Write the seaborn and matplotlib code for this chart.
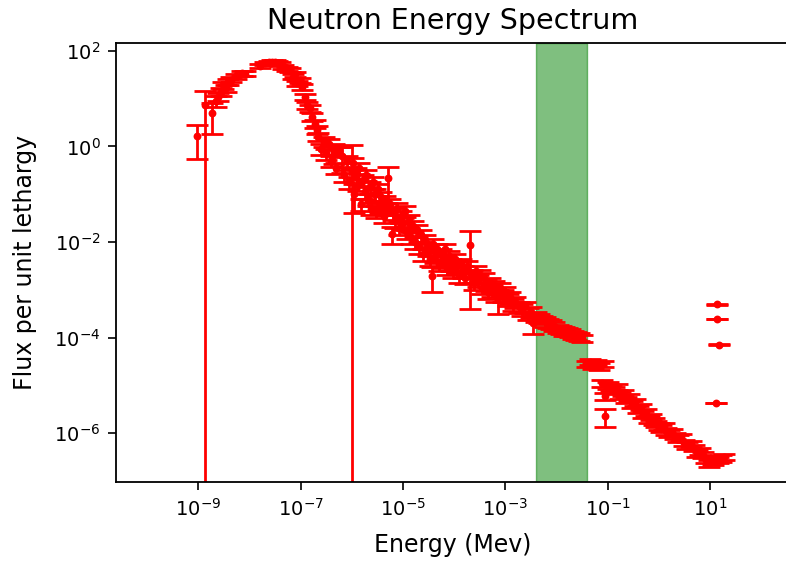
import numpy as np
import pandas as pd
import matplotlib
matplotlib.use("Agg")
import matplotlib.pyplot as plt
import seaborn as sns

# ---------------- data ----------------
# thermal peak region
peak_energy = [9.6e-10, 1.35e-9, 1.88e-9, 2.2e-9, 2.45e-9, 2.75e-9, 3.08e-9, 3.5e-9,
               3.85e-9, 4.4e-9, 5.5e-9, 7.0e-9, 8.2e-9, 1.6e-8, 2.0e-8, 2.4e-8, 2.7e-8,
               3.1e-8, 3.4e-8, 3.9e-8, 4.6e-8, 5.4e-8, 6.2e-8, 7.2e-8, 7.6e-8, 8.4e-8,
               9.5e-8, 1.05e-7, 1.22e-7, 1.32e-7, 1.52e-7, 1.64e-7, 1.9e-7, 2.06e-7, 2.21e-7]
peak_flux = [1.65, 7.3, 4.9, 9.0, 10.9, 14.0, 19.0, 16.5, 22.5, 25.0, 29.0, 33.6, 33.0,
             48.0, 54.5, 57.0, 59.0, 58.0, 55.0, 52.0, 46.6, 42.0, 39.6, 28.6, 32.0, 20.8,
             24.0, 17.7, 10.9, 7.3, 6.25, 4.2, 3.0, 2.2, 1.6]
peak_err = [1.1, 7.4, 3.1, 2.5, 2.2, 2.5, 2.8, 2.6, 3.0, 3.2, 3.5, 3.8, 3.8,
            4.8, 5.0, 5.0, 5.2, 5.0, 5.0, 4.8, 4.5, 4.2, 4.0, 3.4, 3.6, 2.8,
            3.0, 2.5, 1.7, 1.2, 1.0, 0.75, 0.55, 0.42, 0.32]

# epithermal band
band_energy = [2.51e-7, 2.82e-7, 3.16e-7, 3.55e-7, 3.98e-7, 4.47e-7, 4.5e-7, 5.01e-7, 5.62e-7,
               6.31e-7, 7.08e-7, 7.94e-7, 8.91e-7, 1.0e-6, 1.05e-6, 1.12e-6, 1.2e-6, 1.32e-6,
               1.41e-6, 1.51e-6, 1.66e-6, 1.78e-6, 1.91e-6, 2.09e-6, 2.24e-6, 2.4e-6, 2.63e-6,
               2.82e-6, 3.02e-6, 3.31e-6, 3.55e-6, 3.8e-6, 4.17e-6, 4.47e-6, 4.79e-6, 5.16e-6,
               5.5e-6, 6.0e-6, 6.31e-6, 6.9e-6, 7.6e-6, 8.3e-6, 9.1e-6, 1.0e-5, 1.1e-5,
               1.2e-5, 1.32e-5, 1.45e-5, 1.58e-5, 1.74e-5, 1.9e-5, 2.09e-5, 2.29e-5, 2.51e-5,
               2.75e-5, 3.02e-5, 3.31e-5, 3.63e-5, 3.8e-5, 4.17e-5, 4.57e-5, 5.01e-5, 5.5e-5,
               6.03e-5, 6.6e-5, 7.24e-5, 7.94e-5, 8.7e-5, 9.55e-5, 1.05e-4, 1.15e-4, 1.26e-4,
               1.38e-4, 1.51e-4, 1.66e-4, 1.82e-4, 2.04e-4, 2.19e-4, 2.4e-4, 2.63e-4, 2.88e-4,
               3.16e-4, 3.47e-4, 3.8e-4, 4.17e-4, 4.57e-4, 5.01e-4, 5.5e-4, 6.03e-4, 6.6e-4,
               7.24e-4, 7.94e-4, 8.9e-4, 1.0e-3, 1.12e-3, 1.26e-3, 1.41e-3, 1.58e-3, 1.82e-3,
               2.09e-3, 2.4e-3, 2.75e-3, 3.16e-3, 3.55e-3, 3.98e-3, 4.57e-3, 5.25e-3, 6.03e-3,
               6.9e-3, 7.94e-3, 9.1e-3, 1.05e-2, 1.2e-2, 1.38e-2, 1.58e-2, 1.82e-2, 2.09e-2,
               2.4e-2, 2.75e-2, 3.1e-2]
band_flux = [0.89, 1.26, 0.71, 1.12, 0.50, 0.89, 0.75, 0.35, 0.79,
             0.63, 0.25, 0.50, 0.18, 0.30, 0.45, 0.10, 0.28, 0.16,
             0.35, 0.063, 0.20, 0.11, 0.25, 0.079, 0.14, 0.05, 0.18,
             0.10, 0.045, 0.126, 0.056, 0.089, 0.035, 0.071, 0.05, 0.215,
             0.063, 0.015, 0.04, 0.028, 0.05, 0.02, 0.035, 0.025, 0.045,
             0.016, 0.028, 0.0126, 0.022, 0.01, 0.018, 0.0079, 0.014, 0.0056,
             0.011, 0.0071, 0.0045, 0.00195, 0.0089, 0.005, 0.0071, 0.0035, 0.0056,
             0.004, 0.0071, 0.0028, 0.005, 0.0035, 0.0025, 0.0045, 0.0032, 0.002,
             0.0035, 0.0025, 0.0018, 0.0032, 0.0087, 0.002, 0.0014, 0.0025, 0.0016,
             0.002, 0.0011, 0.0018, 0.0013, 0.00089, 0.0014, 0.001, 0.0012, 0.00079,
             0.00066, 0.0011, 0.00079, 0.00089, 0.00063, 0.00071, 0.0005, 0.00056, 0.00045,
             0.0004, 0.00045, 0.00032, 0.00035, 0.0002, 0.00028, 0.00026, 0.00024, 0.00022,
             0.0002, 0.00019, 0.000174, 0.000158, 0.000148, 0.000138, 0.000132, 0.000126, 0.000117,
             0.00011, 0.000105, 0.0000977]
band_err = [0.22, 0.3, 0.18, 0.28, 0.13, 0.22, 0.32, 0.09, 0.2,
            0.35, 0.07, 0.13, 0.05, 0.77, 0.12, 0.06, 0.07, 0.045,
            0.09, 0.018, 0.055, 0.03, 0.065, 0.022, 0.038, 0.014, 0.05,
            0.028, 0.013, 0.034, 0.016, 0.024, 0.01, 0.019, 0.014, 0.16,
            0.017, 0.006, 0.011, 0.008, 0.014, 0.006, 0.01, 0.007, 0.012,
            0.0045, 0.008, 0.0035, 0.006, 0.003, 0.005, 0.0023, 0.004, 0.0016,
            0.003, 0.002, 0.0013, 0.00105, 0.0025, 0.0014, 0.002, 0.001, 0.0016,
            0.0011, 0.002, 0.0008, 0.0014, 0.001, 0.0007, 0.0012, 0.0009, 0.0006,
            0.001, 0.0007, 0.0005, 0.0009, 0.0083, 0.0006, 0.0004, 0.0007, 0.00045,
            0.00055, 0.0003, 0.0005, 0.00035, 0.00025, 0.0004, 0.00028, 0.00033, 0.00022,
            0.00034, 0.0003, 0.00022, 0.00024, 0.00017, 0.0002, 0.00014, 0.00015, 0.00012,
            0.00011, 0.00012, 0.00009, 0.00009, 0.00008, 0.00007, 0.00006, 0.00005, 0.00005,
            0.00004, 0.00004, 0.000035, 0.00003, 0.00003, 0.000028, 0.000026, 0.000024, 0.000022,
            0.00002, 0.00002, 0.000018]

# fast region
fast_energy = [3.98e-2, 4.57e-2, 5.25e-2, 6.03e-2, 6.9e-2, 7.94e-2, 8.9e-2, 7.6e-2, 8.7e-2,
               0.1, 0.115, 0.132, 0.151, 0.174, 0.2, 0.229, 0.263, 0.302, 0.347, 0.398,
               0.447, 0.501, 0.562, 0.631, 0.708, 0.794, 0.891, 1.0, 1.12, 1.26, 1.41,
               1.58, 1.82, 2.09, 2.4, 2.75, 3.16, 3.63, 4.17, 4.79, 5.5, 6.31, 7.24, 8.3,
               9.55, 11.2, 14.1, 16.6, 19.1]
fast_flux = [2.8e-5, 3.16e-5, 2.6e-5, 3.0e-5, 2.5e-5, 2.8e-5, 2.25e-6, 1.12e-5, 5.9e-6,
             1.0e-5, 8.9e-6, 7.9e-6, 9.5e-6, 6.3e-6, 7.1e-6, 5.0e-6, 5.6e-6, 4.0e-6, 4.5e-6, 3.16e-6,
             3.55e-6, 2.5e-6, 2.8e-6, 2.0e-6, 2.24e-6, 1.78e-6, 1.58e-6, 1.41e-6, 1.26e-6, 1.41e-6, 1.12e-6,
             1.0e-6, 1.05e-6, 8.9e-7, 7.9e-7, 8.3e-7, 6.3e-7, 5.6e-7, 6.0e-7, 5.0e-7, 3.8e-7, 4.2e-7, 3.55e-7, 2.8e-7,
             2.4e-7, 2.6e-7, 2.8e-7, 3.0e-7, 3.16e-7]
fast_err = [4e-6, 4.5e-6, 4e-6, 4.5e-6, 4e-6, 4e-6, 0.9e-6, 1.8e-6, 1.0e-6,
            1.6e-6, 1.4e-6, 1.3e-6, 1.5e-6, 1.0e-6, 1.1e-6, 0.8e-6, 0.9e-6, 0.65e-6, 0.7e-6, 0.5e-6,
            0.55e-6, 0.4e-6, 0.45e-6, 0.32e-6, 0.35e-6, 0.28e-6, 0.25e-6, 0.22e-6, 0.2e-6, 0.22e-6, 0.18e-6,
            0.16e-6, 0.17e-6, 0.14e-6, 0.12e-6, 0.13e-6, 1.0e-7, 0.9e-7, 0.95e-7, 0.8e-7, 0.6e-7, 0.65e-7, 0.55e-7, 0.45e-7,
            0.4e-7, 0.4e-7, 0.4e-7, 0.45e-7, 0.45e-7]

# isolated high-energy points
iso_energy = [14.0, 14.0, 15.0, 13.0]
iso_flux = [5.0e-4, 2.46e-4, 7.1e-5, 4.3e-6]
iso_err = [1.0e-5, 5.0e-6, 1.5e-6, 1.0e-7]

band_lo, band_hi = 3.93e-3, 4.0e-2
x_ticks = [1e-9, 1e-7, 1e-5, 1e-3, 1e-1, 1e1]
y_ticks = [1e-6, 1e-4, 1e-2, 1e0, 1e2]
x_limits = (2.43e-11, 350.0)
y_limits = (9.45e-8, 143.0)

title_text = "Neutron Energy Spectrum"
x_label = "Energy (Mev)"
y_label = "Flux per unit lethargy"

# ---------------- assemble ----------------
df = pd.DataFrame({
    "energy": peak_energy + band_energy + fast_energy + iso_energy,
    "flux": peak_flux + band_flux + fast_flux + iso_flux,
    "err": peak_err + band_err + fast_err + iso_err,
})

sns.set_style("ticks")
plt.rcParams["font.family"] = ["DejaVu Sans"]
plt.rcParams["axes.edgecolor"] = "black"
plt.rcParams["xtick.color"] = "black"
plt.rcParams["ytick.color"] = "black"
plt.rcParams["text.color"] = "black"
plt.rcParams["axes.labelcolor"] = "black"

fig = plt.figure(figsize=(7.86, 5.63), dpi=100)
ax = fig.add_axes([115.7 / 786, (563 - 482.3) / 563, (789.0 - 115.7) / 786, (482.3 - 43.3) / 563])
ax.set_xscale("log")
ax.set_yscale("log")

ax.axvspan(band_lo, band_hi, color="g", alpha=0.5, zorder=1)

ax.errorbar(df["energy"], df["flux"], yerr=df["err"], fmt="none", ecolor="red",
            elinewidth=2.0, capsize=7.8, capthick=2.0, zorder=2)
sns.scatterplot(data=df, x="energy", y="flux", color="red", s=32, linewidth=0,
                ax=ax, zorder=3)

ax.set_xlim(*x_limits)
ax.set_ylim(*y_limits)
ax.set_xticks(x_ticks)
ax.set_yticks(y_ticks)
ax.xaxis.set_minor_locator(matplotlib.ticker.NullLocator())
ax.yaxis.set_minor_locator(matplotlib.ticker.NullLocator())
ax.tick_params(axis="both", which="major", labelsize=14, length=6, width=1.2, pad=5)
for s in ax.spines.values():
    s.set_linewidth(1.3)

ax.set_title(title_text, fontsize=20.5, pad=10)
ax.set_xlabel(x_label, fontsize=17, labelpad=10)
ax.set_ylabel(y_label, fontsize=17, labelpad=12)

fig.savefig("out.png", dpi=100)
